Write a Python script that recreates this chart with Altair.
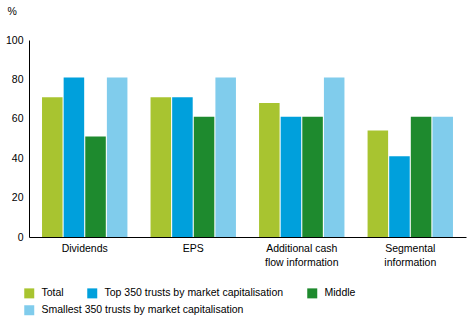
import altair as alt
import pandas as pd

categories = ["Dividends", "EPS", "Additional cash flow information", "Segmental information"]
series = ["Total", "Top 350 trusts by market capitalisation", "Middle",
          "Smallest 350 trusts by market capitalisation"]
total = [71, 71, 68, 54]
top350 = [81, 71, 61, 41]
middle = [51, 61, 61, 61]
smallest = [81, 81, 81, 61]
colors = ["#a8c430", "#00a0dc", "#1e8a2e", "#80ccec"]

rows = []
for s, vals in zip(series, [total, top350, middle, smallest]):
    for c, v in zip(categories, vals):
        rows.append({"category": c, "series": s, "value": v})
df = pd.DataFrame(rows)

font = "Liberation Sans"
fs = 10.5

label_expr = ("datum.value == 'Additional cash flow information' ? ['Additional cash', 'flow information'] : "
              "datum.value == 'Segmental information' ? ['Segmental', 'information'] : datum.value")

x_enc = alt.X("category:N", sort=categories,
              scale=alt.Scale(paddingInner=0.213, paddingOuter=0.12),
              axis=alt.Axis(title=None, labelAngle=0, ticks=False, domainColor="#000000",
                            labelExpr=label_expr, labelPadding=6, labelLineHeight=14,
                            labelFontSize=fs, labelColor="#000000", labelFont=font))
xo_enc = alt.XOffset("series:N", scale=alt.Scale(domain=series, paddingInner=0.05))
y_enc = alt.Y("value:Q", scale=alt.Scale(domain=[0, 100]),
              axis=alt.Axis(values=[0, 20, 40, 60, 80, 100], ticks=False, grid=False,
                            domainColor="#000000", labelPadding=6, labelFontSize=fs,
                            labelColor="#000000", labelFont=font,
                            title="%", titleAngle=0, titleAlign="left", titleBaseline="middle",
                            titleX=-22, titleY=-29, titleFontSize=fs, titleFontWeight="normal",
                            titleFont=font, titleColor="#000000"))

def legend(y):
    return alt.Legend(title=None, orient="none", legendX=-5, legendY=y,
                      direction="horizontal", symbolType="square", symbolSize=100,
                      symbolStrokeWidth=0, labelOffset=7, columnPadding=23,
                      labelLimit=0, labelFontSize=fs, labelFont=font, labelColor="#000000")

base = alt.Chart(df)
first = base.transform_filter(
    alt.FieldOneOfPredicate(field="series", oneOf=series[:3])
).mark_bar().encode(
    x=x_enc, xOffset=xo_enc, y=y_enc,
    color=alt.Color("series:N", sort=series[:3],
                    scale=alt.Scale(domain=series[:3], range=colors[:3]),
                    legend=legend(248)),
)
second = base.transform_filter(
    alt.FieldOneOfPredicate(field="series", oneOf=series[3:])
).mark_bar().encode(
    x=x_enc, xOffset=xo_enc, y=y_enc,
    fill=alt.Fill("series:N",
                  scale=alt.Scale(domain=series[3:], range=colors[3:]),
                  legend=legend(265)),
)

chart = alt.layer(first, second).resolve_scale(color="independent", fill="independent").properties(
    width=437, height=197,
    autosize=alt.AutoSizeParams(type="none"),
    padding={"left": 29, "top": 40, "right": 6, "bottom": 85},
).configure_view(stroke=None).configure_axis(grid=False)

chart.save("out.html", embed_options={"renderer": "svg", "actions": False})
